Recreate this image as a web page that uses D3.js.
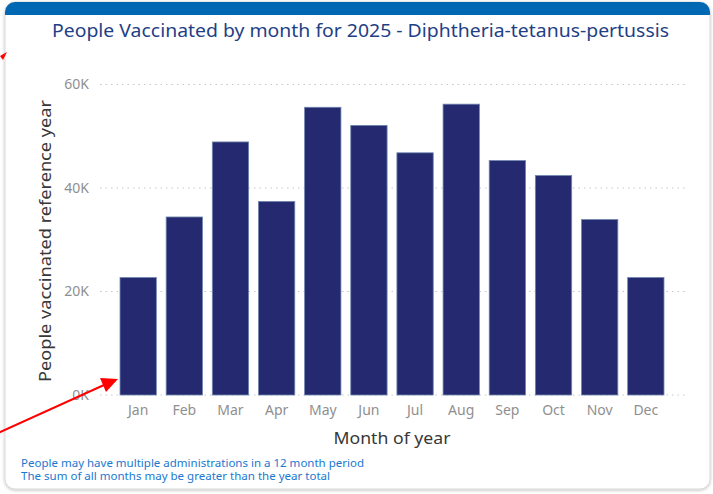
<!DOCTYPE html>
<html><head><meta charset="utf-8">
<script src="https://cdn.jsdelivr.net/npm/d3@7"></script>
<style>
html,body{margin:0;padding:0;background:#fff;}
svg{display:block;font-family:"Noto Sans","Open Sans",sans-serif;}
</style></head>
<body><svg id="c" width="713" height="494"></svg>
<script>
const months = ["Jan","Feb","Mar","Apr","May","Jun","Jul","Aug","Sep","Oct","Nov","Dec"];
const vaccinated = [22700,34400,48900,37400,55600,52100,46800,56200,45300,42400,33900,22700];
const yTicks = [0,20000,40000,60000];
const tickLabels = ["0K","20K","40K","60K"];
const title = "People Vaccinated by month for 2025 - Diphtheria-tetanus-pertussis";
const yTitle = "People vaccinated reference year";
const xTitle = "Month of year";
const notes = ["People may have multiple administrations in a 12 month period","The sum of all months may be greater than the year total"];

const svg = d3.select("#c");
const defs = svg.append("defs");
const f = defs.append("filter").attr("id","sh").attr("x","-5%").attr("y","-5%").attr("width","110%").attr("height","110%");
f.append("feDropShadow").attr("dx",0).attr("dy",1).attr("stdDeviation",1.5).attr("flood-color","#000").attr("flood-opacity",0.25);
const cp = defs.append("clipPath").attr("id","card");
cp.append("rect").attr("x",5).attr("y",2).attr("width",705).attr("height",487).attr("rx",10);

// card
svg.append("rect").attr("x",5).attr("y",2).attr("width",705).attr("height",487).attr("rx",10)
  .attr("fill","#fff").attr("stroke","#d9d9d9").attr("stroke-width",1).attr("filter","url(#sh)");
svg.append("rect").attr("x",5).attr("y",2).attr("width",705).attr("height",13)
  .attr("fill","#0068b3").attr("clip-path","url(#card)");

svg.append("text").attr("x",52).attr("y",37)
  .attr("font-size",18).attr("fill","#1f3f86")
  .attr("textLength",617).attr("lengthAdjust","spacingAndGlyphs").text(title);

const y = d3.scaleLinear().domain([0,60000]).range([395,84.5]);
const x = d3.scaleBand().domain(months).range([115.1,668.9]).paddingInner(0.213).paddingOuter(0.1065);

// gridlines
svg.append("g").selectAll("line").data(yTicks).join("line")
  .attr("x1",100).attr("x2",686).attr("y1",d=>y(d)).attr("y2",d=>y(d))
  .attr("stroke","#c8c8c8").attr("stroke-width",1).attr("stroke-dasharray","1.5,4");

const yAxis = d3.axisLeft(y).tickValues(yTicks).tickFormat((d,i)=>tickLabels[i]).tickSize(0).tickPadding(0);
const ya = svg.append("g").attr("transform","translate(89,0)").call(yAxis);
ya.select(".domain").remove();
ya.selectAll("text").attr("font-size",14).attr("fill","#8f8f8f").attr("font-family","'Noto Sans',sans-serif");

// bars
svg.append("g").selectAll("rect").data(vaccinated).join("rect")
  .attr("x",(d,i)=>x(months[i])).attr("width",x.bandwidth())
  .attr("y",d=>y(d)).attr("height",d=>y(0)-y(d))
  .attr("fill","#252a70").attr("stroke","#6f86ad").attr("stroke-width",0.8);

const xAxis = d3.axisBottom(x).tickSize(0).tickPadding(0);
const xa = svg.append("g").attr("transform","translate(0,405)").call(xAxis);
xa.select(".domain").remove();
xa.selectAll("text").attr("font-size",14).attr("fill","#8f8f8f").attr("dy","0.71em").attr("font-family","'Noto Sans',sans-serif");

svg.append("text").attr("transform","translate(51,241) rotate(-90)").attr("text-anchor","middle")
  .attr("font-size",17).attr("fill","#383838")
  .attr("textLength",282).attr("lengthAdjust","spacingAndGlyphs").text(yTitle);
svg.append("text").attr("x",392).attr("y",444).attr("text-anchor","middle")
  .attr("font-size",17).attr("fill","#383838")
  .attr("textLength",117).attr("lengthAdjust","spacingAndGlyphs").text(xTitle);

svg.append("g").selectAll("text").data(notes).join("text")
  .attr("x",21).attr("y",(d,i)=>467+i*12.5).attr("font-size",10.5).attr("fill","#1b78cf")
  .attr("textLength",(d,i)=>i===0?343:309).attr("lengthAdjust","spacingAndGlyphs").text(d=>d);

// red annotation arrows
const red = "#f00";
svg.append("line").attr("x1",-2).attr("y1",433).attr("x2",104).attr("y2",385).attr("stroke",red).attr("stroke-width",2);
svg.append("path").attr("d","M118,379 L100,378 L106,392 Z").attr("fill",red);
svg.append("path").attr("d","M7,52 L0,56 L3,60 Z").attr("fill",red);
</script></body></html>
